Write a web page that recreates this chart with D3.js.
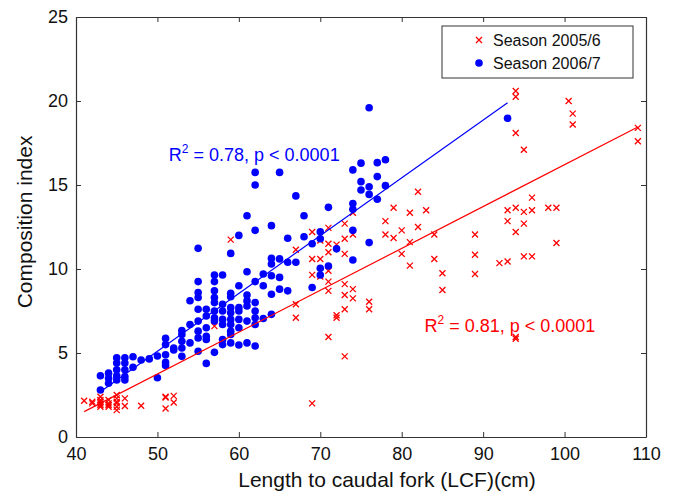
<!DOCTYPE html>
<html>
<head>
<meta charset="utf-8">
<script src="https://cdn.jsdelivr.net/npm/d3@7"></script>
<style>
  body { margin: 0; background: #fff; }
  svg text { font-family: "Liberation Sans", Arial, sans-serif; }
</style>
</head>
<body>
<div id="chart"></div>
<script>
// Season 2005/6 (red crosses): [length, index]
const season05 = [
  [41, 2.16], [42, 2.1], [42, 2.0],
  [43, 2.4], [43, 2.2], [43, 2.1], [43, 2.0], [43, 1.9], [43, 1.8],
  [44, 2.2], [44, 2.0], [44, 1.9], [44, 1.8],
  [45, 2.5], [45, 2.3], [45, 2.1], [45, 2.0], [45, 1.8], [45, 1.6],
  [46, 2.3], [46, 1.85], [48, 1.86],
  [51, 2.4], [51, 2.35], [51, 1.7], [52, 2.45], [52, 2.05],
  [57, 6.6], [59, 11.75],
  [67, 11.15], [67, 7.9], [67, 7.1],
  [69, 12.2], [69, 10.6], [69, 9.65], [69, 2.0],
  [70, 11.7], [70, 10.6], [70, 9.55],
  [71, 12.45], [71, 11.5], [71, 11.0], [71, 9.9], [71, 9.25], [71, 8.7], [71, 5.95],
  [72, 11.45], [72, 7.25], [72, 7.1],
  [73, 12.7], [73, 11.8], [73, 10.9], [73, 9.1], [73, 8.45], [73, 7.6], [73, 4.8],
  [74, 13.35], [74, 12.05], [74, 8.8], [74, 8.25],
  [76, 8.05], [76, 7.6],
  [78, 12.85], [78, 12.05], [79, 13.65], [79, 11.85],
  [80, 12.3], [80, 10.9], [81, 13.35], [81, 11.6], [81, 10.2],
  [82, 14.6], [82, 12.5], [83, 13.5], [84, 12.05], [84, 10.6],
  [85, 9.75], [85, 8.75],
  [89, 12.05], [89, 10.85], [89, 9.7],
  [92, 10.35], [93, 13.5], [93, 12.85], [93, 10.45],
  [94, 20.6], [94, 20.25], [94, 18.1], [94, 13.65], [94, 12.2], [94, 5.95], [94, 5.85],
  [95, 17.1], [95, 13.4], [95, 12.7], [95, 10.75],
  [96, 14.25], [96, 13.5], [96, 10.75],
  [98, 13.65], [99, 13.65], [99, 11.55],
  [100.5, 20.0], [101, 19.25], [101, 18.6],
  [109, 18.4], [109, 17.6]
];

// Season 2006/7 (blue dots): [length, index]
const season06 = [
  [43, 3.65], [43, 2.8],
  [44, 3.8], [44, 3.5], [44, 3.2],
  [45, 4.72], [45, 4.4], [45, 4.0], [45, 3.65], [45, 3.4],
  [46, 4.72], [46, 4.4], [46, 4.0], [46, 3.6], [46, 3.4],
  [47, 4.78], [47, 4.15], [48, 4.58], [49, 4.65], [50, 4.82], [50, 3.53],
  [51, 5.87], [51, 5.5], [51, 4.9], [51, 4.44], [51, 4.25],
  [52, 5.3], [52, 5.18],
  [53, 6.33], [53, 6.1], [53, 5.7], [53, 5.3], [53, 4.8],
  [54, 8.11], [54, 6.7], [54, 5.6],
  [55, 11.23], [55, 9.25], [55, 8.6], [55, 8.3], [55, 7.6], [55, 6.9], [55, 6.3], [55, 5.9], [55, 5.1],
  [56, 7.6], [56, 7.2], [56, 6.5], [56, 6.0], [56, 5.8], [56, 4.38],
  [57, 9.64], [57, 9.25], [57, 8.7], [57, 8.3], [57, 8.0], [57, 7.5], [57, 7.1], [57, 6.9], [57, 5.04],
  [58, 9.64], [58, 7.9], [58, 7.5], [58, 7.0], [58, 6.7], [58, 5.8], [58, 5.5],
  [59, 10.93], [59, 8.55], [59, 8.35], [59, 7.7], [59, 7.4], [59, 7.0], [59, 6.7], [59, 6.3], [59, 6.1], [59, 5.6],
  [60, 12.0], [60, 9.0], [60, 7.7], [60, 7.5], [60, 7.0], [60, 6.5], [60, 5.48],
  [61, 13.17], [61, 9.84], [61, 8.45], [61, 8.1], [61, 7.8], [61, 6.9], [61, 5.6],
  [62, 15.75], [62, 15.0], [62, 12.3], [62, 9.25], [62, 8.0], [62, 7.5], [62, 7.1], [62, 6.7], [62, 5.42],
  [63, 9.7], [63, 9.0], [63, 7.05],
  [64, 12.58], [64, 10.63], [64, 10.3], [64, 9.6], [64, 8.5], [64, 7.3],
  [65, 15.75], [65, 10.6], [65, 9.5], [65, 8.8],
  [66, 11.83], [66, 10.4], [66, 8.7],
  [67, 14.35], [67, 10.4], [68, 13.17], [68, 11.92], [69, 11.5], [69, 8.9],
  [70, 12.22], [70, 11.8], [70, 10.04], [70, 9.64],
  [71, 13.67], [71, 10.18], [72, 11.2],
  [74, 15.9], [74, 13.9], [74, 13.55], [74, 12.3], [74, 10.54],
  [75, 16.3], [75, 15.2], [75, 14.7],
  [76, 19.6], [76, 14.9], [76, 14.44], [76, 11.57],
  [77, 16.33], [77, 15.5], [77, 14.15],
  [78, 16.5], [78, 14.96],
  [93, 18.97]
];

// fitted lines, end points
const fit05 = [[41, 1.51], [109, 18.45]];
const fit06 = [[43, 2.7], [93, 19.9]];

const seriesNames = ["Season 2005/6", "Season 2006/7"];
const seriesColors = ["#ff0000", "#0000ff"];
const annoText = ["0.81, p < 0.0001", "0.78, p < 0.0001"];

const xTicks = [40, 50, 60, 70, 80, 90, 100, 110];
const yTicks = [0, 5, 10, 15, 20, 25];

const width = 677;
const height = 496;
const margin = { top: 17, right: 31, bottom: 59, left: 76 };

const svg = d3.select("#chart")
  .append("svg")
  .attr("width", width)
  .attr("height", height);

const x = d3.scaleLinear()
  .domain([40, 110])
  .range([margin.left, width - margin.right]);
const y = d3.scaleLinear()
  .domain([0, 25])
  .range([height - margin.bottom, margin.top]);

const axisColor = "#333";

// axes with inward ticks on all four sides
svg.append("g")
  .attr("transform", `translate(0,${height - margin.bottom})`)
  .call(d3.axisBottom(x).tickValues(xTicks).tickSizeInner(-5).tickSizeOuter(0).tickPadding(10));
svg.append("g")
  .attr("transform", `translate(${margin.left},0)`)
  .call(d3.axisLeft(y).tickValues(yTicks).tickSizeInner(-5).tickSizeOuter(0).tickPadding(8));
svg.append("g")
  .attr("transform", `translate(0,${margin.top})`)
  .call(d3.axisTop(x).tickValues(xTicks).tickSizeInner(-5).tickSizeOuter(0).tickFormat(""));
svg.append("g")
  .attr("transform", `translate(${width - margin.right},0)`)
  .call(d3.axisRight(y).tickValues(yTicks).tickSizeInner(-5).tickSizeOuter(0).tickFormat(""));

svg.selectAll(".domain").attr("stroke", axisColor).attr("stroke-width", 1.2);
svg.selectAll(".tick line").attr("stroke", axisColor);
svg.selectAll(".tick text").attr("font-size", 18).attr("fill", "#111");

// axis labels
svg.append("text")
  .attr("x", x(78.2))
  .attr("y", 487)
  .attr("text-anchor", "middle")
  .attr("font-size", 21)
  .attr("fill", "#111")
  .text("Length to caudal fork (LCF)(cm)");

svg.append("text")
  .attr("transform", `translate(32,${y(12.8)}) rotate(-90)`)
  .attr("text-anchor", "middle")
  .attr("font-size", 21)
  .attr("fill", "#111")
  .text("Composition index");

const crossPath = "M-3,-3L3,3M-3,3L3,-3";

// points
svg.append("g")
  .selectAll("path")
  .data(season05)
  .enter()
  .append("path")
    .attr("transform", d => `translate(${x(d[0])},${y(d[1])})`)
    .attr("d", crossPath)
    .attr("stroke", seriesColors[0])
    .attr("stroke-width", 1.3)
    .attr("fill", "none");

svg.append("g")
  .selectAll("circle")
  .data(season06)
  .enter()
  .append("circle")
    .attr("cx", d => x(d[0]))
    .attr("cy", d => y(d[1]))
    .attr("r", 3.8)
    .attr("fill", seriesColors[1]);

// regression lines
const line = d3.line().x(d => x(d[0])).y(d => y(d[1]));
[fit05, fit06].forEach((fit, i) => {
  svg.append("path")
    .datum(fit)
    .attr("d", line)
    .attr("fill", "none")
    .attr("stroke", seriesColors[i])
    .attr("stroke-width", 1.2);
});

// R^2 annotations
const annoPos = [[82.8, 6.25], [51.4, 16.4]];
annoText.forEach((t, i) => {
  const txt = svg.append("text")
    .attr("x", x(annoPos[i][0]))
    .attr("y", y(annoPos[i][1]))
    .attr("font-size", 18)
    .attr("fill", seriesColors[i]);
  txt.append("tspan").text("R");
  txt.append("tspan").attr("font-size", 12).attr("dy", -8).text("2");
  txt.append("tspan").attr("dy", 8).text(" = " + t);
});

// legend
const legend = svg.append("g").attr("transform", "translate(442,26)");
legend.append("rect")
  .attr("width", 191)
  .attr("height", 52)
  .attr("fill", "#fff")
  .attr("stroke", axisColor)
  .attr("stroke-width", 1);

seriesNames.forEach((name, i) => {
  const cy = 14 + i * 23;
  if (i === 0) {
    legend.append("path")
      .attr("transform", `translate(37,${cy})`)
      .attr("d", crossPath)
      .attr("stroke", seriesColors[i])
      .attr("stroke-width", 1.3);
  } else {
    legend.append("circle")
      .attr("cx", 37)
      .attr("cy", cy)
      .attr("r", 3.8)
      .attr("fill", seriesColors[i]);
  }
  legend.append("text")
    .attr("x", 51)
    .attr("y", cy + 6)
    .attr("font-size", 16)
    .attr("fill", "#111")
    .text(name);
});
</script>
</body>
</html>
